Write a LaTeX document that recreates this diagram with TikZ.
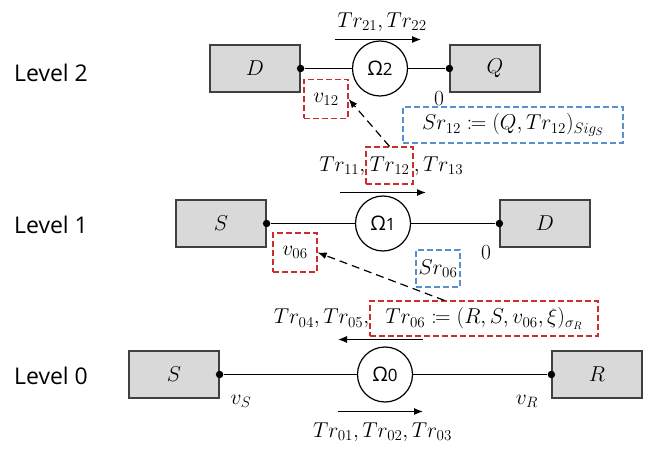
\RequirePackage{fix-cm}
\documentclass[tikz,border=0pt]{standalone}
\usepackage{amsmath,amssymb,mathtools}
\usepackage{fontspec}
\newfontfamily\levelfont{Open Sans}
\usetikzlibrary{arrows.meta,positioning,calc}
\definecolor{boxgray}{RGB}{217,217,217}
\definecolor{sigred}{RGB}{204,45,45}
\definecolor{sigblue}{RGB}{86,145,205}
\tikzset{party/.style={rectangle,draw=black!75,fill=boxgray,line width=1.2pt,
      minimum width=90pt,minimum height=47pt,inner sep=0pt},
    channel/.style={circle,draw=black,fill=white,line width=1.2pt,minimum size=55pt,
      inner sep=0pt,font=\levelfont\fontsize{20}{24}\selectfont},
    port/.style={circle,fill=black,minimum size=7.5pt,inner sep=0pt},
    redbox/.style={rectangle,draw=sigred,line width=1.2pt,dash pattern=on 6pt off 3pt,inner sep=0pt},
    bluebox/.style={rectangle,draw=sigblue,line width=1.2pt,dash pattern=on 6pt off 3pt,inner sep=0pt},
    level/.style={font=\levelfont\fontsize{23}{27}\selectfont},
    link/.style={draw,line width=1.2pt},
    flow/.style={-{Latex[length=9pt,width=7pt]},line width=1.2pt},
    sigarrow/.style={-{Latex[length=9pt,width=7pt]},line width=1.2pt,dash pattern=on 8pt off 5pt}}
\newcommand{\chlabel}[1]{Ω{\fontsize{17}{20}\selectfont #1}}

\begin{document}
\begin{tikzpicture}[
    x=1pt, y=-1pt,
    every node/.style={font=\fontsize{21.5}{26}\selectfont},
  ]
  \useasboundingbox (0,0) rectangle (664,457);

  % Level labels
  \node[level] (lv2) at (51,73) {Level 2};
  \node[level] (lv1) at (51,225) {Level 1};
  \node[level] (lv0) at (51,376) {Level 0};

  % Level 2
  \node[party] (d2) at (255,68.5) {$D$};
  \node[party] (q2) at (495,68.5) {$Q$};
  \node[channel] (om2) at (380,68.5) {\chlabel{2}};
  \node[port] (d2p) at (d2.east) {};
  \node[port] (q2p) at (q2.west) {};
  \draw[link] (d2p) -- (om2) -- (q2p);
  \coordinate (f2s) at (335,39.5);
  \coordinate (f2e) at (421,39.5);
  \draw[flow] (f2s) -- (f2e);
  \node (t2) at (382,22) {$Tr_{21}, Tr_{22}$};
  \node[redbox, minimum width=44pt, minimum height=39pt] (v12) at (326,99) {$v_{12}$};
  \node (z2) at (439,99) {$0$};
  \node[bluebox, minimum width=220pt, minimum height=36pt] (sr12) at (513,125)
    {$Sr_{12} \coloneqq (Q, Tr_{12})_{Sig_S}$};

  % Level 1
  \node[party] (s1) at (221,223.5) {$S$};
  \node[party] (d1) at (545,223.5) {$D$};
  \node[channel] (om1) at (383,223.5) {\chlabel{1}};
  \node[port] (s1p) at (s1.east) {};
  \node[port] (d1p) at (d1.west) {};
  \draw[link] (s1p) -- (om1) -- (d1p);
  \coordinate (f1s) at (340,192.5);
  \coordinate (f1e) at (426,192.5);
  \draw[flow] (f1s) -- (f1e);
  \node[redbox, minimum width=47pt, minimum height=37pt] (tr12) at (389.5,165.5) {$Tr_{12}$};
  \node[anchor=base east, inner sep=0pt] (t11) at (tr12.base west) {$Tr_{11},$};
  \node[anchor=base west, inner sep=0pt] (t13) at (tr12.base east) {$, Tr_{13}$};
  \draw[sigarrow] (tr12.north) -- (v12.east);
  \node[redbox, minimum width=44pt, minimum height=39pt] (v06) at (295,252.5) {$v_{06}$};
  \node (z1) at (486,253) {$0$};
  \node[bluebox, minimum width=44pt, minimum height=37pt] (sr06) at (438,268.5) {$Sr_{06}$};

  % Level 0
  \node[party] (s0) at (174,374.5) {$S$};
  \node[party] (r0) at (597,374.5) {$R$};
  \node[channel] (om0) at (385,374.5) {\chlabel{0}};
  \node[port] (s0p) at (s0.east) {};
  \node[port] (r0p) at (r0.west) {};
  \draw[link] (s0p) -- (om0) -- (r0p);
  \node (vs) at (241,401) {$v_S$};
  \node (vr) at (527,401) {$v_R$};
  \coordinate (f0s) at (338,411.5);
  \coordinate (f0e) at (423,411.5);
  \draw[flow] (f0s) -- (f0e);
  \node (t01) at (382.5,432) {$Tr_{01}, Tr_{02}, Tr_{03}$};
  \coordinate (b0s) at (423,339.5);
  \coordinate (b0e) at (338,339.5);
  \draw[flow] (b0s) -- (b0e);
  \node[redbox, minimum width=228pt, minimum height=35pt] (tr06) at (484,318.5)
    {$Tr_{06} \coloneqq (R, S, v_{06}, \xi)_{\sigma_R}$};
  \node[anchor=base east, inner sep=0pt] (t04) at (tr06.base west) {$Tr_{04}, Tr_{05},$};
  \draw[sigarrow] ([xshift=75pt]tr06.north west) -- (v06.east);
\end{tikzpicture}
\end{document}
